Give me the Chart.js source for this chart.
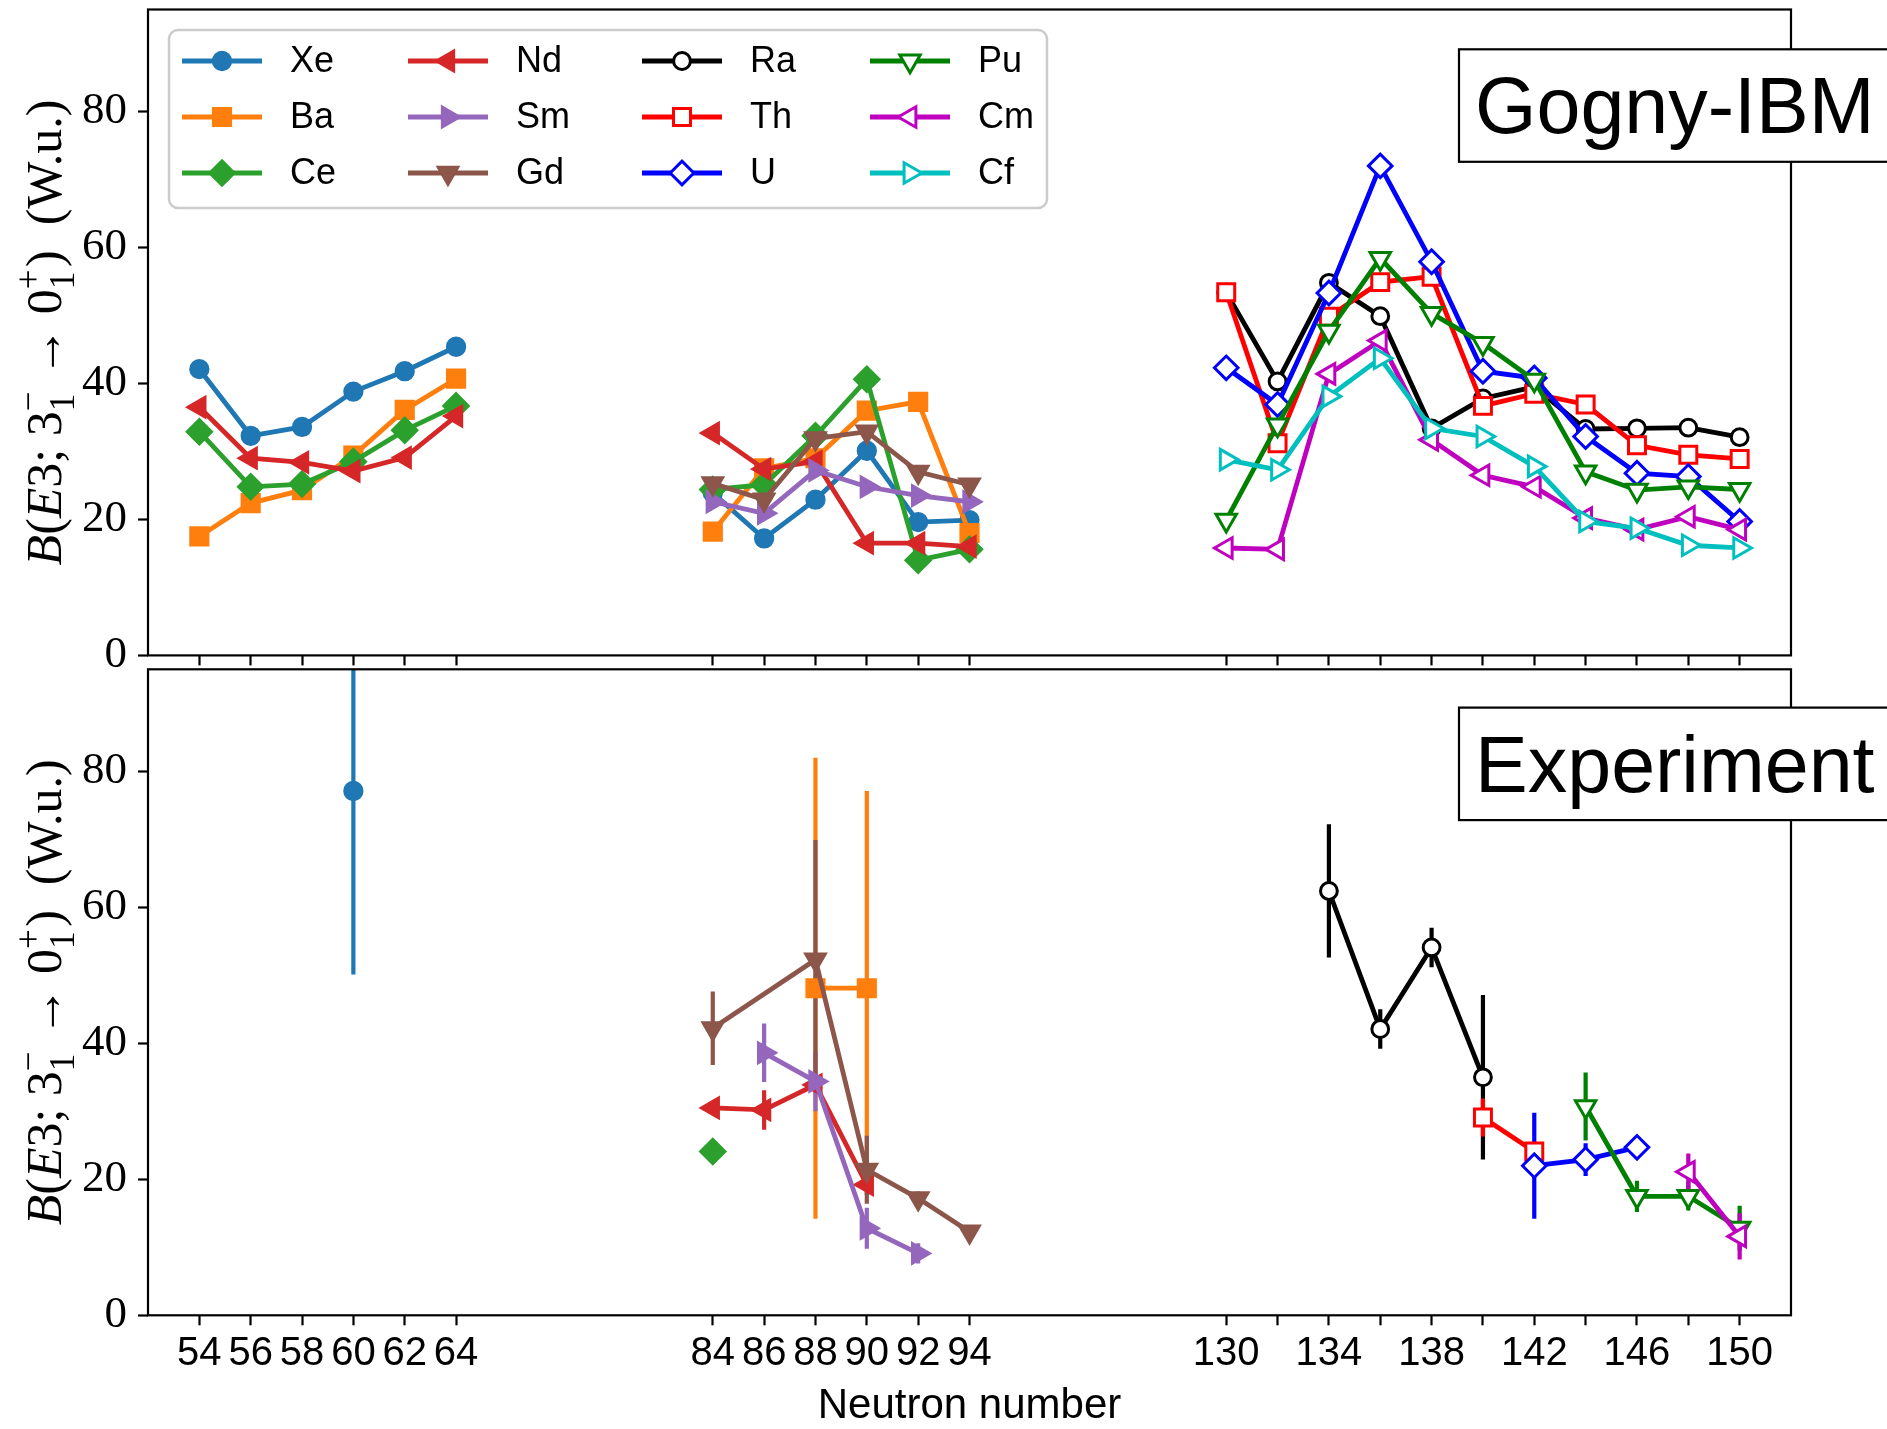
<!DOCTYPE html>
<html>
<head>
<meta charset="utf-8">
<title>B(E3) systematics</title>
<script src="https://cdn.jsdelivr.net/npm/chart.js@4.4.1/dist/chart.umd.min.js"></script>
<style>
  body { margin: 0; background: #fff; }
  #wrap { position: relative; width: 1887px; height: 1429px; }
  canvas { position: absolute; left: 0; }
</style>
</head>
<body>
<div id="wrap">
  <canvas id="upper" width="1887" height="700" style="top:0"></canvas>
  <canvas id="lower" width="1887" height="769" style="top:660px"></canvas>
</div>
<script>
// neutron numbers of the three blocks on the x axis
const nLight = [54, 56, 58, 60, 62, 64];
const nMid = [84, 86, 88, 90, 92, 94];
const nHeavy = [130, 132, 134, 136, 138, 140, 142, 144, 146, 148, 150];
const nLabelled = [54, 56, 58, 60, 62, 64, 84, 86, 88, 90, 92, 94, 130, 134, 138, 142, 146, 150];
const yTickValues = [0, 20, 40, 60, 80];

// Gogny-IBM B(E3; 3- -> 0+) in W.u.
const ibmXe = [42.1, 32.3, 33.6, 38.8, 41.8, 45.4, 23.9, 17.2, 22.9, 30.1, 19.6, 19.9];
const ibmBa = [17.5, 22.4, 24.3, 29.4, 36.1, 40.7, 18.2, 27.5, 29.0, 36.0, 37.3, 18.0];
const ibmCe = [32.9, 24.8, 25.2, 28.5, 33.1, 36.7, 24.4, 25.1, 32.3, 40.6, 14.0, 15.6];
const ibmNd = [36.5, 29.0, 28.4, 27.1, 29.1, 35.2, 32.7, 27.4, 28.5, 16.5, 16.5, 16.0];
const ibmSm = [22.6, 20.9, 27.2, 24.8, 23.5, 22.6];
const ibmGd = [25.3, 22.9, 31.9, 32.9, 27.0, 25.1];
const ibmRa = [53.4, 40.3, 54.8, 49.9, 33.4, 37.8, 39.5, 33.3, 33.4, 33.5, 32.1];
const ibmTh = [53.4, 31.2, 49.8, 54.9, 55.7, 36.7, 38.5, 36.9, 30.9, 29.5, 28.9];
const ibmU  = [42.3, 36.9, 53.3, 72.0, 57.9, 41.8, 40.8, 32.2, 26.8, 26.3, 19.7];
const ibmPu = [19.9, 33.9, 47.7, 58.4, 50.3, 45.9, 40.5, 27.0, 24.3, 24.8, 24.4];
const ibmCm = [15.8, 15.6, 41.4, 46.3, 31.7, 26.5, 24.8, 20.2, 18.5, 20.4, 18.5];
const ibmCf = [28.8, 27.3, 38.1, 43.7, 33.4, 32.2, 27.8, 19.7, 18.7, 16.2, 15.8];

// measured values with symmetric errors
const expXeN = [60];                    const expXe = [77.1];                     const expXeErr = [27.0];
const expBaN = [88, 90];                const expBa = [48.1, 48.1];               const expBaErr = [33.9, 29.0];
const expCeN = [84];                    const expCe = [24.1];                     const expCeErr = [0];
const expNdN = [84, 86, 88, 90];        const expNd = [30.5, 30.2, 33.9, 19.2];   const expNdErr = [1.0, 2.9, 1.0, 1.5];
const expSmN = [86, 88, 90, 92];        const expSm = [38.6, 34.4, 12.8, 9.1];    const expSmErr = [4.3, 4.4, 3.0, 1.5];
const expGdN = [84, 88, 90, 92, 94];    const expGd = [42.2, 52.3, 21.4, 17.2, 12.3]; const expGdErr = [5.4, 17.6, 5.0, 1.0, 0.6];
const expRaN = [134, 136, 138, 140];    const expRa = [62.4, 42.1, 54.1, 35.0];   const expRaErr = [9.8, 2.9, 2.9, 12.1];
const expThN = [140, 142];              const expTh = [29.1, 24.1];               const expThErr = [2.8, 1.5];
const expUN  = [142, 144, 146];         const expU  = [22.0, 22.9, 24.7];         const expUErr  = [7.8, 2.4, 0.5];
const expPuN = [144, 146, 148, 150];    const expPu = [30.7, 17.5, 17.5, 12.8];   const expPuErr = [5.0, 2.3, 2.1, 3.3];
const expCmN = [148, 150];              const expCm = [21.1, 11.6];               const expCmErr = [2.7, 3.4];

const looks = {
  Xe: { color: '#1f77b4', shape: 'circle',   rot: 0,   r: 9.4,  open: false },
  Ba: { color: '#ff7f0e', shape: 'rect',     rot: 0,   r: 13.2, open: false },
  Ce: { color: '#2ca02c', shape: 'rectRot',  rot: 0,   r: 13.2, open: false },
  Nd: { color: '#d62728', shape: 'triangle', rot: 270, r: 12.8, open: false },
  Sm: { color: '#9467bd', shape: 'triangle', rot: 90,  r: 12.8, open: false },
  Gd: { color: '#8c564b', shape: 'triangle', rot: 180, r: 12.8, open: false },
  Ra: { color: '#000000', shape: 'circle',   rot: 0,   r: 8.4,  open: true },
  Th: { color: '#ff0000', shape: 'rect',     rot: 0,   r: 12,   open: true },
  U:  { color: '#0000ff', shape: 'rectRot',  rot: 0,   r: 11.8, open: true },
  Pu: { color: '#008000', shape: 'triangle', rot: 180, r: 11.8, open: true },
  Cm: { color: '#bf00bf', shape: 'triangle', rot: 270, r: 11.8, open: true },
  Cf: { color: '#00bfbf', shape: 'triangle', rot: 90,  r: 11.8, open: true }
};

const ibmRows = [
  ['Xe', nLight.concat(nMid), ibmXe],
  ['Ba', nLight.concat(nMid), ibmBa],
  ['Ce', nLight.concat(nMid), ibmCe],
  ['Nd', nLight.concat(nMid), ibmNd],
  ['Sm', nMid, ibmSm],
  ['Gd', nMid, ibmGd],
  ['Ra', nHeavy, ibmRa],
  ['Th', nHeavy, ibmTh],
  ['U',  nHeavy, ibmU],
  ['Pu', nHeavy, ibmPu],
  ['Cm', nHeavy, ibmCm],
  ['Cf', nHeavy, ibmCf]
];

const expRows = [
  ['Xe', expXeN, expXe, expXeErr],
  ['Ba', expBaN, expBa, expBaErr],
  ['Ce', expCeN, expCe, expCeErr],
  ['Nd', expNdN, expNd, expNdErr],
  ['Sm', expSmN, expSm, expSmErr],
  ['Gd', expGdN, expGd, expGdErr],
  ['Ra', expRaN, expRa, expRaErr],
  ['Th', expThN, expTh, expThErr],
  ['U',  expUN,  expU,  expUErr],
  ['Pu', expPuN, expPu, expPuErr],
  ['Cm', expCmN, expCm, expCmErr]
];

const LINE_W = 4.8;
const BAR_W = 4.2;

// the axis is compressed: each block gets its own run of slots
function blockOf(n) { return n <= 64 ? 0 : (n <= 94 ? 1 : 2); }
function axisPos(n) {
  if (n <= 64) return (n - 54) / 2;
  if (n <= 94) return 10 + (n - 84) / 2;
  return 20 + (n - 130) / 2;
}
function neutronAt(p) {
  if (p <= 5) return 54 + 2 * p;
  if (p <= 15) return 84 + 2 * (p - 10);
  return 130 + 2 * (p - 20);
}

function makeDataset(label, ns, vals, errs, idx) {
  const st = looks[label];
  const data = [], errorBars = [];
  ns.forEach((n, i) => {
    if (i > 0 && blockOf(n) !== blockOf(ns[i - 1])) {
      data.push({ x: axisPos(n) - 0.5, y: null });
      errorBars.push(0);
    }
    data.push({ x: axisPos(n), y: vals[i] });
    errorBars.push(errs ? errs[i] : 0);
  });
  return {
    label, data, errorBars,
    order: -idx,
    borderColor: st.color,
    borderWidth: LINE_W,
    fill: false,
    tension: 0,
    spanGaps: false,
    pointStyle: st.shape,
    pointRotation: st.rot,
    pointRadius: st.r,
    pointHoverRadius: st.r,
    pointBorderWidth: st.open ? 3 : 1.5,
    pointBackgroundColor: st.open ? '#ffffff' : st.color,
    pointBorderColor: st.color
  };
}

const PLOT_LEFT = 148;
const PLOT_RIGHT = 1791;
const allTickPos = nLight.concat(nMid, nHeavy).map(axisPos);

const errorBarPlugin = {
  id: 'errorBars',
  beforeDatasetsDraw(chart) {
    const { ctx, chartArea: a, scales: { x, y } } = chart;
    ctx.save();
    ctx.beginPath();
    ctx.rect(a.left, a.top, a.right - a.left, a.bottom - a.top);
    ctx.clip();
    ctx.lineCap = 'butt';
    chart.data.datasets.forEach(ds => {
      ctx.strokeStyle = ds.borderColor;
      ctx.lineWidth = BAR_W;
      ds.data.forEach((p, i) => {
        const e = ds.errorBars[i];
        if (p.y == null || !e) return;
        const px = x.getPixelForValue(p.x);
        ctx.beginPath();
        ctx.moveTo(px, y.getPixelForValue(p.y + e));
        ctx.lineTo(px, y.getPixelForValue(p.y - e));
        ctx.stroke();
      });
    });
    ctx.restore();
  }
};

// frame, y title, corner caption and (upper panel only) the legend
const decorPlugin = {
  id: 'decor',
  afterDraw(chart, args, opts) {
    const { ctx, chartArea: a } = chart;
    ctx.save();
    ctx.strokeStyle = '#000';
    ctx.lineWidth = 2.2;
    ctx.strokeRect(a.left, a.top, a.right - a.left, a.bottom - a.top);

    drawYTitle(ctx, 61, (a.top + a.bottom) / 2);

    // caption box
    ctx.fillStyle = '#fff';
    ctx.fillRect(1459, opts.boxTop, 460, 112.5);
    ctx.lineWidth = 2.2;
    ctx.strokeRect(1459, opts.boxTop, 460, 112.5);
    ctx.fillStyle = '#000';
    ctx.font = '79px "Liberation Sans", Arial, sans-serif';
    ctx.textBaseline = 'alphabetic';
    ctx.textAlign = 'left';
    ctx.fillText(opts.caption, 1475, opts.boxTop + 84);

    if (opts.legend) drawLegend(chart);
    ctx.restore();
  }
};

// rotated axis title with stacked sub/superscripts; baseX is the baseline position
function drawYTitle(ctx, baseX, cy) {
  const F0 = 46;
  const parts = [
    { t: 'B', it: true }, { t: '(' }, { t: 'E', it: true }, { t: '3; 3' },
    { sub: '1', sup: '\u2212' }, { t: ' \u2192 0' }, { sub: '1', sup: '+' }, { t: ')  (W.u.)' }
  ];
  const fontFor = (size, it) => (it ? 'italic ' : '') + size + 'px "Liberation Serif", "DejaVu Serif", serif';
  const widthAt = F => parts.reduce((w, p) => {
    if (p.t) { ctx.font = fontFor(F, p.it); return w + ctx.measureText(p.t).width; }
    ctx.font = fontFor(F * 0.7, false);
    return w + Math.max(ctx.measureText(p.sub).width, ctx.measureText(p.sup).width) + F * 0.05;
  }, 0);
  const F = F0 * 466 / widthAt(F0);
  const total = widthAt(F);
  ctx.save();
  ctx.translate(baseX, cy);
  ctx.rotate(-Math.PI / 2);
  ctx.fillStyle = '#000';
  ctx.textBaseline = 'alphabetic';
  ctx.textAlign = 'left';
  let x = -total / 2;
  parts.forEach(p => {
    if (p.t) {
      ctx.font = fontFor(F, p.it);
      ctx.fillText(p.t, x, 0);
      x += ctx.measureText(p.t).width;
    } else {
      ctx.font = fontFor(F * 0.7, false);
      ctx.fillText(p.sup, x, -F * 0.42);
      ctx.fillText(p.sub, x, F * 0.26);
      x += Math.max(ctx.measureText(p.sub).width, ctx.measureText(p.sup).width) + F * 0.05;
    }
  });
  ctx.restore();
}

function drawLegend(chart) {
  const { ctx } = chart;
  const colX = [182, 408, 642, 870];
  const rowY = [61, 117, 173];
  ctx.save();
  ctx.fillStyle = 'rgba(255,255,255,0.8)';
  ctx.strokeStyle = '#cccccc';
  ctx.lineWidth = 2.5;
  ctx.beginPath();
  ctx.roundRect(169, 30, 878, 178, 9);
  ctx.fill();
  ctx.stroke();
  chart.data.datasets.forEach((ds, i) => {
    const x0 = colX[Math.floor(i / 3)];
    const y0 = rowY[i % 3];
    ctx.strokeStyle = ds.borderColor;
    ctx.lineWidth = LINE_W;
    ctx.beginPath();
    ctx.moveTo(x0, y0);
    ctx.lineTo(x0 + 80, y0);
    ctx.stroke();
    ctx.fillStyle = ds.pointBackgroundColor;
    ctx.strokeStyle = ds.pointBorderColor;
    ctx.lineWidth = ds.pointBorderWidth;
    Chart.helpers.drawPoint(ctx, {
      pointStyle: ds.pointStyle, rotation: ds.pointRotation,
      radius: ds.pointRadius, borderWidth: ds.pointBorderWidth
    }, x0 + 40, y0);
    ctx.fillStyle = '#000';
    ctx.font = '36px "Liberation Sans", Arial, sans-serif';
    ctx.textBaseline = 'middle';
    ctx.textAlign = 'left';
    ctx.fillText(ds.label, x0 + 108, y0 + 1);
  });
  ctx.restore();
}

function makeChart(id, datasets, cfg) {
  return new Chart(document.getElementById(id), {
    type: 'line',
    data: { datasets },
    plugins: [errorBarPlugin, decorPlugin],
    options: {
      responsive: false,
      animation: false,
      devicePixelRatio: 1,
      layout: {
        autoPadding: false,
        padding: { top: cfg.padTop, right: 1887 - PLOT_RIGHT, bottom: 0, left: 0 }
      },
      plugins: {
        legend: { display: false },
        tooltip: { enabled: false },
        decor: { caption: cfg.caption, boxTop: cfg.boxTop, legend: cfg.legend }
      },
      scales: {
        x: {
          type: 'linear',
          min: -1,
          max: 31,
          afterBuildTicks: s => { s.ticks = allTickPos.map(v => ({ value: v })); },
          afterFit: s => { s.height = cfg.xHeight; s.paddingLeft = 0; s.paddingRight = 0; },
          border: { display: false },
          grid: { drawOnChartArea: false, drawTicks: true, tickLength: 10, tickWidth: 2.2, tickColor: '#000' },
          ticks: {
            display: cfg.xLabels,
            autoSkip: false,
            maxRotation: 0,
            minRotation: 0,
            padding: 5,
            color: '#000',
            font: { family: '"Liberation Sans", Arial, sans-serif', size: 40 },
            callback: v => {
              const n = neutronAt(v);
              return nLabelled.includes(n) ? String(n) : '';
            }
          },
          title: {
            display: cfg.xLabels,
            text: 'Neutron number',
            color: '#000',
            font: { family: '"Liberation Sans", Arial, sans-serif', size: 42, lineHeight: 1 },
            padding: { top: 0, bottom: 2 }
          }
        },
        y: {
          min: 0,
          max: 95,
          afterBuildTicks: s => { s.ticks = yTickValues.map(v => ({ value: v })); },
          afterFit: s => { s.width = PLOT_LEFT; s.paddingTop = 0; s.paddingBottom = 0; },
          border: { display: false },
          grid: { drawOnChartArea: false, drawTicks: true, tickLength: 10, tickWidth: 2.2, tickColor: '#000' },
          ticks: {
            padding: 11,
            color: '#000',
            font: { family: '"Liberation Serif", "DejaVu Serif", serif', size: 45, lineHeight: 0.3 }
          }
        }
      }
    }
  });
}

const upperSets = ibmRows.map((r, i) => makeDataset(r[0], r[1], r[2], null, i));
const lowerSets = expRows.map((r, i) => makeDataset(r[0], r[1], r[2], r[3], i));

makeChart('upper', upperSets, {
  padTop: 9.5, xHeight: 44.6, xLabels: false, caption: 'Gogny-IBM', boxTop: 49.3, legend: true
});
makeChart('lower', lowerSets, {
  padTop: 9.3, xHeight: 113.7, xLabels: true, caption: 'Experiment', boxTop: 47.6, legend: false
});
</script>
</body>
</html>
